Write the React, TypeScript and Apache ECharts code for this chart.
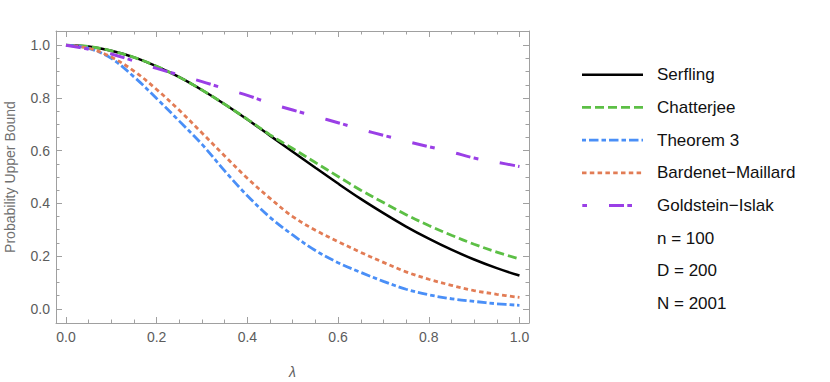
import React, { useEffect, useRef } from "react";
import * as echarts from "echarts";

const lambdas = [0, 0.05, 0.1, 0.15, 0.2, 0.25, 0.3, 0.35, 0.4, 0.45, 0.5, 0.55, 0.6, 0.65, 0.7, 0.75, 0.8, 0.85, 0.9, 0.95, 1.0];
const serfling = [1.0, 0.995, 0.979, 0.954, 0.92, 0.879, 0.83, 0.776, 0.718, 0.657, 0.596, 0.535, 0.475, 0.417, 0.363, 0.312, 0.266, 0.224, 0.187, 0.154, 0.126];
const chatterjee = [1.0, 0.995, 0.979, 0.954, 0.92, 0.879, 0.83, 0.776, 0.719, 0.66, 0.608, 0.555, 0.502, 0.45, 0.403, 0.357, 0.316, 0.279, 0.245, 0.215, 0.189];
const theorem3 = [1.0, 0.988, 0.95, 0.88, 0.798, 0.712, 0.624, 0.523, 0.429, 0.347, 0.28, 0.221, 0.175, 0.138, 0.104, 0.074, 0.053, 0.038, 0.028, 0.019, 0.013];
const bardenet = [1.0, 0.989, 0.955, 0.902, 0.832, 0.753, 0.667, 0.58, 0.495, 0.419, 0.35, 0.298, 0.255, 0.214, 0.176, 0.14, 0.112, 0.089, 0.069, 0.055, 0.043];
const goldstein = [1.0, 0.985, 0.967, 0.94, 0.912, 0.887, 0.862, 0.835, 0.81, 0.779, 0.754, 0.73, 0.706, 0.681, 0.658, 0.636, 0.615, 0.595, 0.572, 0.556, 0.54];

const majorTicks = [0, 0.2, 0.4, 0.6, 0.8, 1.0];
const minorTicks = [0.05, 0.1, 0.15, 0.25, 0.3, 0.35, 0.45, 0.5, 0.55, 0.65, 0.7, 0.75, 0.85, 0.9, 0.95];
const seriesNames = ["Serfling", "Chatterjee", "Theorem 3", "Bardenet\u2212Maillard", "Goldstein\u2212Islak"];
const paramLabels = ["n = 100", "D = 200", "N = 2001"];

const FONT = "'Liberation Sans', Arial, sans-serif";
const FRAME = "#a0a0a0";
const LABEL = "#5c5c5c";

const styles = [
  { color: "#000000", dash: null as number[] | null, width: 2.5, legendOffset: 0 },
  { color: "#5cbf45", dash: [9, 4], width: 2.8, legendOffset: 0 },
  { color: "#4a8ff7", dash: [9.5, 3, 4.5, 3], width: 2.8, legendOffset: 12.5 },
  { color: "#e27c55", dash: [4.5, 3.3], width: 2.8, legendOffset: 0 },
  { color: "#9a3fe6", dash: [15, 3.3, 4.7, 22], width: 3, legendOffset: 18.3 },
];
const seriesValues = [serfling, chatterjee, theorem3, bardenet, goldstein];

export default function App() {
  const ref = useRef<HTMLDivElement>(null);
  useEffect(() => {
    if (!ref.current) return;
    const chart = echarts.init(ref.current, undefined, { renderer: "svg" });
    const xMin = -0.022, xMax = 1.021, yMin = -0.054, yMax = 1.054;

    const mkX = (position: string, ticks: number[], len: number, labels: boolean, line: boolean, extra: any = {}) => ({
      type: "value", position, min: xMin, max: xMax,
      axisLine: { show: line, onZero: false, lineStyle: { color: FRAME, width: 1 } },
      axisTick: { show: true, inside: true, length: len, customValues: ticks, lineStyle: { color: FRAME, width: 1 } },
      axisLabel: labels
        ? { show: true, customValues: majorTicks, formatter: (v: number) => v.toFixed(1), color: LABEL, fontSize: 14, fontFamily: FONT, margin: 7 }
        : { show: false },
      splitLine: { show: false },
      ...extra,
    });
    const mkY = (position: string, ticks: number[], len: number, labels: boolean, line: boolean, extra: any = {}) => ({
      type: "value", position, min: yMin, max: yMax,
      axisLine: { show: line, onZero: false, lineStyle: { color: FRAME, width: 1 } },
      axisTick: { show: true, inside: true, length: len, customValues: ticks, lineStyle: { color: FRAME, width: 1 } },
      axisLabel: labels
        ? { show: true, customValues: majorTicks, formatter: (v: number) => v.toFixed(1), color: LABEL, fontSize: 14, fontFamily: FONT, margin: 6 }
        : { show: false },
      splitLine: { show: false },
      ...extra,
    });

    const series = seriesNames.map((name, k) => ({
      name,
      type: "line",
      data: lambdas.map((l, i) => [l, seriesValues[k][i]]),
      xAxisIndex: 0,
      yAxisIndex: 0,
      smooth: 0.35,
      symbol: "none",
      showSymbol: false,
      lineStyle: { color: styles[k].color, width: styles[k].width, type: styles[k].dash || "solid", cap: "butt" },
      itemStyle: { color: styles[k].color },
    }));

    const legendGraphics: any[] = [];
    seriesNames.forEach((name, i) => {
      const y = 74.7 + i * 32.7;
      const s = styles[i];
      legendGraphics.push({
        type: "line",
        shape: { x1: 582, y1: y, x2: 643, y2: y },
        style: { stroke: s.color, lineWidth: s.width, lineDash: s.dash || undefined, lineDashOffset: s.legendOffset, lineCap: "butt" },
      });
      legendGraphics.push({
        type: "text",
        x: 657,
        y,
        style: { text: name, fontSize: 17, fontFamily: FONT, fill: "#111", verticalAlign: "middle" },
      });
    });
    paramLabels.forEach((t, i) => {
      legendGraphics.push({
        type: "text",
        x: 657,
        y: 74.7 + (i + 5) * 32.7,
        style: { text: t, fontSize: 17, fontFamily: FONT, fill: "#111", verticalAlign: "middle" },
      });
    });

    chart.setOption({
      animation: false,
      grid: { left: 56, right: 301, top: 31, bottom: 59, containLabel: false, outerBoundsMode: "none" },
      xAxis: [
        mkX("bottom", majorTicks, 6, true, true, {
          name: "λ", nameLocation: "middle", nameGap: 42,
          nameTextStyle: { color: LABEL, fontSize: 14, fontStyle: "italic", fontFamily: FONT },
        }),
        mkX("bottom", minorTicks, 3.5, false, false),
        mkX("top", majorTicks, 6, false, true),
        mkX("top", minorTicks, 3.5, false, false),
      ],
      yAxis: [
        mkY("left", majorTicks, 6, true, true, {
          name: "Probability Upper Bound", nameLocation: "middle", nameGap: 39,
          nameTextStyle: { color: "#707070", fontSize: 14, fontFamily: FONT },
        }),
        mkY("left", minorTicks, 3.5, false, false),
        mkY("right", majorTicks, 6, false, true),
        mkY("right", minorTicks, 3.5, false, false),
      ],
      graphic: legendGraphics,
      series,
    });
    return () => chart.dispose();
  }, []);
  return <div ref={ref} style={{ position: "absolute", left: 0, top: 0, width: 830, height: 382 }} />;
}
